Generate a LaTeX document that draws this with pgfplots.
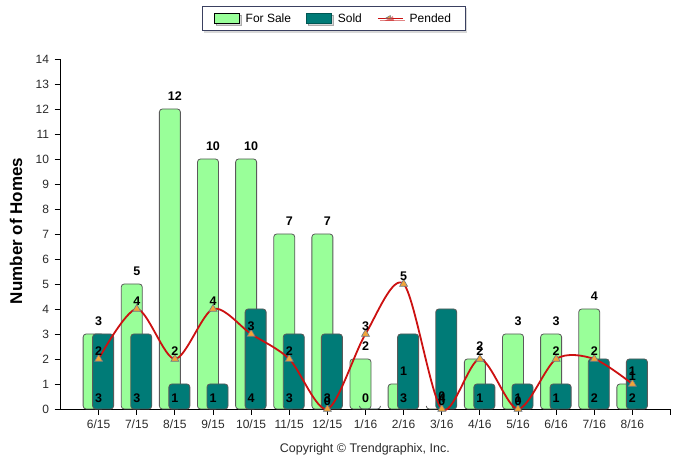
\documentclass[border=0pt]{standalone}
\usepackage{pgfplots}
\usepackage{pgfplotstable}
\pgfplotsset{compat=1.18}
\usepackage{fontspec}
\setmainfont{Liberation Sans}
\usetikzlibrary{shadows}
\definecolor{forsale}{HTML}{99FF99}
\definecolor{sold}{HTML}{007B77}
\definecolor{pendred}{HTML}{CC1111}
\definecolor{markfill}{HTML}{F2A43A}
\definecolor{markdraw}{HTML}{6A7A8A}
\definecolor{bardraw}{HTML}{5A5A5A}
\definecolor{ticktext}{HTML}{2A2A2A}
\definecolor{legdraw}{HTML}{3A4060}

\pgfplotstableread{
x fs so pe
0 3 3 2
1 5 3 4
2 12 1 2
3 10 1 4
4 10 4 3
5 7 3 2
6 7 3 0
7 2 0 3
8 1 3 5
9 0 4 0
10 2 1 2
11 3 1 0
12 3 1 2
13 4 2 2
14 1 2 1
}\data

\begin{document}
\begin{tikzpicture}
\path[use as bounding box] (0pt,0pt) rectangle (688pt,468pt);
\begin{axis}[
  at={(60.5pt,59pt)}, anchor=south west,
  scale only axis, width=610pt, height=350pt,
  xmin=-1, xmax=15, ymin=0, ymax=14,
  clip=false,
  /pgf/number format/assume math mode=true,
  axis x line*=bottom, axis y line*=left,
  axis line style={draw=black, line width=0.8pt},
  xtick={0,...,14},
  xticklabels={6/15,7/15,8/15,9/15,10/15,11/15,12/15,1/16,2/16,3/16,4/16,5/16,6/16,7/16,8/16},
  extra x ticks={15}, extra x tick labels={},
  ytick={0,...,14},
  tick align=outside,
  major tick length=6pt,
  tick style={draw=black, line width=0.8pt},
  ticklabel style={font=\fontsize{12}{14}\selectfont, text=ticktext},
  yticklabel style={xshift=-2pt},
  xticklabel style={yshift=-1pt},
  ylabel={Number of Homes},
  every axis y label/.style={at={(rel axis cs:-0.073,0.509)}, rotate=90, anchor=center, font=\bfseries\fontsize{17}{19}\selectfont},
  legend columns=3,
  legend style={at={(0.4475,1.1157)}, anchor=center, draw=legdraw, line width=0.8pt, fill=white,
    drop shadow={shadow xshift=2pt, shadow yshift=-2pt, fill=gray!60},
    font=\fontsize{12}{14}\selectfont, inner xsep=12pt, inner ysep=5pt,
    /tikz/every odd column/.append style={column sep=4pt},
    /tikz/every even column/.append style={column sep=13pt}},
]
\addplot[ybar, bar width=21pt, bar shift=-5pt, fill=forsale, draw=bardraw, line width=0.8pt,
  rounded corners=3pt,
  nodes near coords,
  every node near coord/.append style={anchor=base, yshift=8.5pt, font=\bfseries\fontsize{12.5}{14}\selectfont, text=black},
  legend image code/.code={\draw[sharp corners, fill=forsale, draw=black, line width=0.8pt] (0pt,-5pt) rectangle (25pt,5pt);}]
  table[x=x, y=fs] {\data};
\addlegendentry{For Sale}
\addplot[ybar, bar width=21pt, bar shift=4.5pt, fill=sold, draw=bardraw, line width=0.8pt,
  rounded corners=3pt,
  visualization depends on={y \as \rawy},
  nodes near coords,
  every node near coord/.append style={anchor=base, shift={(axis direction cs:0,-\rawy)}, yshift=6pt, font=\bfseries\fontsize{12.5}{14}\selectfont, text=black},
  legend image code/.code={\draw[sharp corners, fill=sold, draw=sold!70!black, line width=0.8pt] (0pt,-5pt) rectangle (25pt,5pt);}]
  table[x=x, y=so] {\data};
\addlegendentry{Sold}
\addplot[smooth, draw=pendred, line width=1.8pt, mark=triangle*, mark size=4.6pt,
  mark options={fill=markfill, draw=markdraw, line width=0.6pt},
  nodes near coords,
  every node near coord/.append style={anchor=base, yshift=3pt, font=\bfseries\fontsize{12.5}{14}\selectfont, text=black},
  legend image code/.code={\draw[draw=pendred, line width=1.8pt] (0pt,0pt) -- (25pt,0pt);
     \draw[fill=markfill, draw=markdraw, line width=0.5pt] (12.5pt,0pt) ++(90:3pt) -- ++(210:5.2pt) -- ++(0:5.2pt) -- cycle;}]
  table[x=x, y=pe] {\data};
\addlegendentry{Pended}
\node[font=\fontsize{12.5}{14}\selectfont, text=ticktext] at (rel axis cs:0.499,-0.114) {Copyright © Trendgraphix, Inc.};
\end{axis}
\end{tikzpicture}
\end{document}
